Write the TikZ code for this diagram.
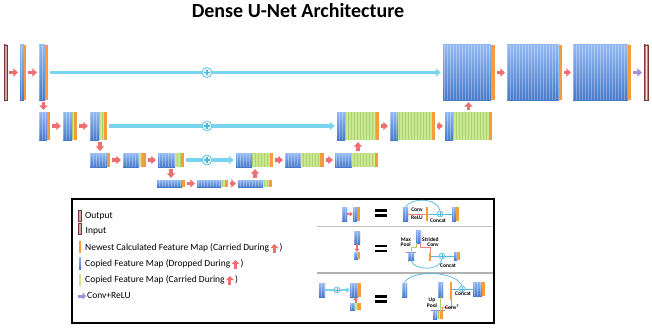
\documentclass[tikz,border=0pt]{standalone}
\usepackage{fontspec}
\setmainfont{Carlito}
\usetikzlibrary{arrows.meta,fit,positioning,calc}

\definecolor{bluetop}{RGB}{146,184,242}
\definecolor{bluebot}{RGB}{72,122,202}
\definecolor{greenmap}{RGB}{202,232,142}
\definecolor{orangemap}{RGB}{247,156,60}
\definecolor{redarr}{RGB}{236,112,112}
\definecolor{skipcyan}{RGB}{122,212,238}
\definecolor{skipedge}{RGB}{80,184,222}
\definecolor{plusfill}{RGB}{222,244,250}
\definecolor{purplearr}{RGB}{166,142,222}
\definecolor{browndark}{RGB}{122,52,52}
\definecolor{brownlight}{RGB}{244,228,228}
\definecolor{convred}{RGB}{236,130,130}
\definecolor{poolgreen}{RGB}{170,214,110}
\definecolor{poolcap}{RGB}{160,140,210}

\begin{document}
\begin{tikzpicture}[
  x=1pt,
  y=-1pt,
  font=\fontsize{9.5}{11}\selectfont,
  stripe/.style={white, opacity=0.3, line width=0.5pt},
  gstripe/.style={green!35!black, opacity=0.15, line width=0.5pt},
  redarrow/.style={redarr, line width=3.6pt,
    -{Triangle[width=8.5pt,length=4.5pt]}, shorten <=2pt, shorten >=2pt},
  purplearrow/.style={redarrow, purplearr},
  minired/.style={redarr, line width=2pt, -{Triangle[width=5pt,length=3pt]}},
  skip/.style={skipcyan, line width=3.4pt,
    -{Triangle[width=8pt,length=5pt]}, shorten <=1.5pt, shorten >=2pt},
  miniskip/.style={skipcyan, line width=2.4pt, -{Triangle[width=5.5pt,length=3.5pt]}},
  thinskip/.style={skipedge, line width=0.7pt},
  convline/.style={convred, line width=0.7pt},
  poolline/.style={poolgreen, line width=0.7pt},
  plusnode/.style={circle, draw=skipedge, fill=plusfill, line width=0.6pt,
    minimum size=#1, inner sep=0pt,
    path picture={\draw[skipedge, line width=0.13*#1]
      ($(path picture bounding box.west)!.22!(path picture bounding box.east)$) --
      ($(path picture bounding box.west)!.78!(path picture bounding box.east)$)
      ($(path picture bounding box.north)!.22!(path picture bounding box.south)$) --
      ($(path picture bounding box.north)!.78!(path picture bounding box.south)$);}},
  plusnode/.default=10pt,
  legtext/.style={anchor=west, inner sep=0pt, text height=6.5pt, text depth=2pt},
  mini/.style={font=\fontsize{5.5}{5.5}\selectfont\bfseries, inner sep=0pt, align=center},
  eqbar/.style={line width=2.4pt}
]
  % feature map: name, x1, y1, x2, y2, end of blue, end of green
  \def\fmap#1#2#3#4#5#6#7{%
    \begin{scope}
      \clip (#2,#3) rectangle (#6,#5);
      \shade[top color=bluetop, bottom color=bluebot] (#2,#3) rectangle (#6,#5);
      \pgfmathtruncatemacro\sa{#2/3}
      \pgfmathtruncatemacro\sb{#6/3+1}
      \foreach \s in {\sa,...,\sb} \draw[stripe] (3*\s,#3) -- (3*\s,#5);
    \end{scope}
    \begin{scope}
      \clip (#6,#3) rectangle (#7,#5);
      \fill[greenmap] (#6,#3) rectangle (#7,#5);
      \pgfmathtruncatemacro\sa{#6/3}
      \pgfmathtruncatemacro\sb{#7/3+1}
      \foreach \s in {\sa,...,\sb} \draw[gstripe] (3*\s,#3) -- (3*\s,#5);
    \end{scope}
    \fill[orangemap] (#7,#3) rectangle (#4,#5);
    \node[fit={(#2,#3) (#4,#5)}, inner sep=0pt] (#1) {};
  }
  % thin orange bar
  \def\obar#1#2#3#4#5{%
    \fill[orangemap] (#2,#3) rectangle (#4,#5);
    \node[fit={(#2,#3) (#4,#5)}, inner sep=0pt] (#1) {};
  }
  % input / output bar
  \def\iobar#1#2#3#4#5{%
    \shade[left color=browndark, right color=browndark, middle color=brownlight]
      (#2,#3) rectangle (#4,#5);
    \draw[browndark, line width=0.4pt] (#2,#3) rectangle (#4,#5);
    \node[fit={(#2,#3) (#4,#5)}, inner sep=0pt] (#1) {};
  }

  \useasboundingbox (0,0) rectangle (652,329);

  % Title
  \node[font=\fontsize{20}{24}\selectfont\bfseries, anchor=base] (title)
    at (298,17.3) {Dense U-Net Architecture};

  % Level 1
  \iobar{in}{4}{45}{7}{100}
  \fmap{b1}{20}{45}{26}{100}{24}{24}
  \fmap{b2}{39}{45}{48}{100}{45}{45}
  \fmap{big1}{443}{45}{495}{100}{491}{491}
  \fmap{big2}{507}{45}{562}{100}{559}{559}
  \fmap{big3}{573}{45}{631}{100}{628}{628}
  \iobar{out}{644}{45}{648}{100}

  % Level 2
  \fmap{c1}{39}{112}{50}{140}{47}{47}
  \fmap{c2}{63}{112}{77}{140}{72}{74}
  \fmap{c3}{90}{112}{107}{140}{99}{104}
  \fmap{d1}{337}{112}{379}{140}{345}{376}
  \fmap{d2}{390}{112}{435}{140}{398}{432}
  \fmap{d3}{445}{112}{492}{140}{453}{489}

  % Level 3
  \fmap{e1}{90}{153}{110}{167}{107}{107}
  \fmap{e2}{123}{153}{146}{167}{139}{142}
  \fmap{e3}{158}{153}{184}{167}{175}{181}
  \fmap{f1}{236}{153}{273}{167}{252}{270}
  \fmap{f2}{285}{153}{324}{167}{301}{320}
  \fmap{f3}{335}{153}{378}{167}{352}{375}

  % Level 4
  \fmap{g1}{157}{180}{185}{187}{182}{182}
  \fmap{g2}{197}{180}{228}{187}{221}{225}
  \fmap{g3}{238}{180}{272}{187}{263}{269}

  % Conv+ReLU steps
  \draw[redarrow] (in) -- (b1);
  \draw[redarrow] (b1) -- (b2);
  \draw[redarrow] (big1) -- (big2);
  \draw[redarrow] (big2) -- (big3);
  \draw[purplearrow] (big3) -- (out);
  \draw[redarrow] (c1) -- (c2);
  \draw[redarrow] (c2) -- (c3);
  \draw[redarrow] (d1) -- (d2);
  \draw[redarrow] (d2) -- (d3);
  \draw[redarrow] (e1) -- (e2);
  \draw[redarrow] (e2) -- (e3);
  \draw[redarrow] (f1) -- (f2);
  \draw[redarrow] (f2) -- (f3);
  \draw[redarrow] (g1) -- (g2);
  \draw[redarrow] (g2) -- (g3);

  % Down and up
  \draw[redarrow] (b2.south) -- (b2.south |- c1.north);
  \draw[redarrow] (e1.north |- c3.south) -- (e1.north);
  \draw[redarrow] (e3.south) -- (e3.south |- g1.north);
  \draw[redarrow] (g3.north) -- (g3.north |- f1.south);
  \draw[redarrow] (d1.south |- f3.north) -- (d1.south);
  \draw[redarrow] (d3.north) -- (d3.north |- big1.south);

  % Skip connections
  \draw[skip] (b2) -- (big1);
  \draw[skip] (c3) -- (d1);
  \draw[skip] (e3) -- (f1);
  \node[plusnode] (p1) at (207,72.5) {};
  \node[plusnode] (p2) at (207,126) {};
  \node[plusnode] (p3) at (207,160) {};

  % Legend frame
  \draw[line width=1.3pt] (72,199) rectangle (494,323);
  \draw[gray!50, line width=0.6pt] (317,226) -- (492,226);
  \draw[gray!60, line width=1.5pt] (317,273) -- (493,273);

  % Legend, left
  \iobar{lout}{78}{210}{81}{221}
  \iobar{lin}{78}{223}{81}{234}
  \fill[orangemap] (79,241) rectangle (81,253);
  \shade[top color=bluetop, bottom color=bluebot] (79,257) rectangle (81,269);
  \fill[greenmap] (79,274) rectangle (81,286);
  \draw[purplearr, line width=3pt, -{Triangle[width=7pt,length=3.5pt]}] (78,296) -- (86,296);

  \node[legtext] (tout) at (85,216) {Output};
  \node[legtext] (tin) at (85.5,231) {Input};
  \node[legtext] (tnew) at (85,248) {Newest Calculated Feature Map (Carried During};
  \node[legtext] (tdrop) at (85,264) {Copied Feature Map (Dropped During};
  \node[legtext] (tcarry) at (85,280) {Copied Feature Map (Carried During};
  \node[legtext] (tconv) at (87,296) {Conv+ReLU};
  \foreach \t in {tnew,tdrop,tcarry} {
    \draw[redarr, line width=3pt, -{Triangle[width=7.5pt,length=4pt]}]
      ($(\t.east)+(5,4.5)$) -- ($(\t.east)+(5,-4)$);
    \node[legtext, right=10pt of \t] {)};
  }

  % Legend row A: Conv+ReLU step
  \fmap{la1}{342}{207}{347}{221}{347}{347}
  \fmap{la2}{353}{207}{360}{221}{357}{357}
  \draw[minired] (la1) -- (la2);
  \draw[eqbar] (375,210.5) -- (387,210.5) (375,215.5) -- (387,215.5);
  \fmap{ra1}{403}{207}{408}{221}{408}{408}
  \obar{ro1}{426}{207}{428}{221}
  \node[plusnode=6pt] (rp1) at (440,214) {};
  \fmap{ra2}{452}{207}{459}{221}{456}{456}
  \draw[convline] (ra1) -- (ro1);
  \draw[thinskip] (ro1) -- (rp1) -- (ra2);
  \draw[thinskip] (ra1.north) .. controls (412,197) and (438,198) .. (rp1.north);
  \node[mini] (lconv) at (417,210) {Conv};
  \node[mini] (lrelu) at (417,218) {ReLU};
  \node[mini] (lcat1) at (438,221) {Concat};

  % Legend row B: down step
  \fmap{lb1}{354}{231}{360}{244}{360}{360}
  \fmap{lb2}{354}{252}{360}{259}{358}{358}
  \draw[minired] (lb1) -- (lb2);
  \draw[eqbar] (375,246) -- (387,246) (375,251) -- (387,251);
  \fmap{rb1}{416}{230}{421}{243}{421}{421}
  \fmap{rb2}{408}{253}{414}{260}{414}{414}
  \draw[poolcap, line width=1pt] (406,252.5) -- (416,252.5);
  \obar{ro2}{429}{253}{431}{261}
  \node[plusnode=6pt] (rp2) at (442,256) {};
  \fmap{rb3}{454}{252}{460}{260}{457}{457}
  \draw[poolline] ([xshift=1pt]rb1.south west) -- ++(0,4) -| (rb2.north);
  \draw[convline] ([xshift=-1pt]rb1.south east) -- ++(0,4) -| (ro2.north);
  \draw[thinskip] (ro2.east |- rp2) -- (rp2) -- (rb3.west |- rp2);
  \draw[thinskip] (rb2.south) .. controls (414,271) and (440,271) .. (rp2.south);
  \node[mini, anchor=east, align=right] (lmax) at (411,242) {Max\\Pool};
  \node[mini, anchor=west, align=right] (lstr) at (422,242) {Strided\\Conv};
  \node[mini] (lcat2) at (448,266) {Concat};

  % Legend row C: up step
  \fmap{lc1}{319}{283}{325}{297}{325}{325}
  \fmap{lc2}{350}{283}{361}{297}{358}{358}
  \fmap{lc3}{350}{303}{361}{310}{355}{358}
  \draw[miniskip] (lc1) -- (lc2);
  \node[plusnode=6pt] (lcp) at (337,290) {};
  \draw[minired] (lc3) -- (lc2);
  \draw[eqbar] (375,296.5) -- (387,296.5) (375,301.5) -- (387,301.5);
  \fmap{rc1}{402}{283}{407}{297}{407}{407}
  \fmap{rc2}{438}{282}{443}{297}{443}{443}
  \obar{ro3}{450}{282}{452}{300}
  \node[plusnode=6pt] (rcp) at (462,289) {};
  \fmap{rc3}{473}{282}{485}{296}{482}{482}
  \fmap{rc4}{433}{311}{443}{319}{437}{440}
  \draw[poolcap, line width=1pt] (431,310.5) -- (445,310.5);
  \draw[poolline] (rc2.south) -- (rc2.south |- rc4.north);
  \draw[convline] ([xshift=-1pt]rc4.north east) -- ++(0,-3) -| (ro3.south);
  \draw[thinskip] (ro3.east |- rcp) -- (rcp) -- (rc3.west |- rcp);
  \draw[thinskip] (rc1.north) .. controls (410,270) and (455,270) .. (rcp.north);
  \node[mini] (lup) at (432,302.5) {Up\\Pool};
  \node[mini, anchor=west] (lconvt) at (445,307) {Conv\textsuperscript{T}};
  \node[mini] (lcat3) at (463,294) {Concat};
\end{tikzpicture}
\end{document}
